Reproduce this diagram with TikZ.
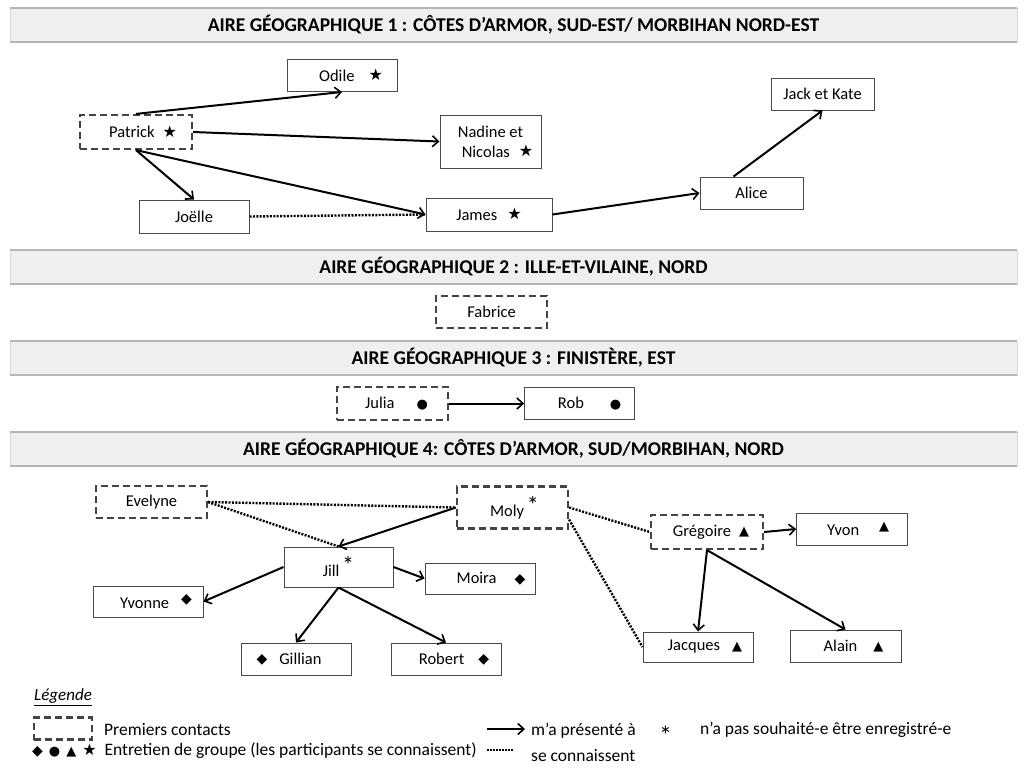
\documentclass[tikz,border=0pt]{standalone}
\usepackage{fontspec}
\setmainfont{Carlito}
\newfontfamily\symfont{DejaVu Sans}
\usetikzlibrary{arrows.meta, positioning}

\definecolor{boxgray}{HTML}{4A4A4A}
\definecolor{dashgray}{HTML}{444444}
\definecolor{barfill}{HTML}{EFEFEF}
\definecolor{barline}{HTML}{B5B5B5}

\newcommand{\etoile}{\raisebox{0.5pt}{\symfont\fontsize{16}{16}\selectfont ★}}
\newcommand{\losange}{\raisebox{0.5pt}{\symfont\fontsize{14}{14}\selectfont ◆}}
\newcommand{\rond}{\raisebox{0.5pt}{\symfont\fontsize{13}{13}\selectfont ●}}
\newcommand{\trgl}{\raisebox{0.5pt}{\symfont\fontsize{13}{13}\selectfont ▲}}
\newcommand{\refus}{\raisebox{3pt}{\fontsize{24}{24}\selectfont *}}

\tikzset{
  person/.style={rectangle, draw=boxgray, line width=1pt, fill=white, minimum width=110pt, minimum height=32pt, inner sep=2pt, font=\fontsize{16.5}{20}\selectfont},
  contact/.style={person, draw=dashgray, line width=2.2pt, dash pattern=on 7pt off 4pt},
  presente/.style={-{Straight Barb[length=6pt,width=11pt,line width=1.6pt]}, line width=2pt, black},
  connait/.style={line width=2.4pt, dash pattern=on 2pt off 1.4pt, black},
  bandeau/.style={rectangle, fill=barfill, draw=barline!50, line width=0.6pt, minimum width=1007pt, minimum height=34pt, font=\fontsize{19.5}{21}\selectfont\bfseries},
  legtext/.style={anchor=west, inner sep=0pt, font=\fontsize{17.5}{19}\selectfont}
}

\begin{document}
\begin{tikzpicture}[x=1pt, y=-1pt]
  \useasboundingbox (0,0) rectangle (1024,769);
  % bandeaux des aires
  \node[bandeau] (aire1) at (513.5,25) {AIRE GÉOGRAPHIQUE 1 : CÔTES D’ARMOR, SUD-EST/ MORBIHAN NORD-EST};
  \node[bandeau] (aire2) at (513.5,267) {AIRE GÉOGRAPHIQUE 2 : ILLE-ET-VILAINE, NORD};
  \node[bandeau] (aire3) at (513.5,358) {AIRE GÉOGRAPHIQUE 3 : FINISTÈRE, EST};
  \node[bandeau] (aire4) at (513.5,449) {AIRE GÉOGRAPHIQUE 4: CÔTES D’ARMOR, SUD/MORBIHAN, NORD};
  \foreach \a in {aire1,aire2,aire3,aire4}{
    \draw[barline, line width=2pt] (\a.north west) -- (\a.north east);
    \draw[barline, line width=2pt] (\a.south west) -- (\a.south east);
  }

  % aire 1
  \node[contact, minimum width=112pt, minimum height=34pt] (Patrick) at (136,132) {\hspace*{14pt}Patrick\hspace{8pt}\etoile};
  \node[person] (Odile) at (342,75.5) {\hspace*{18pt}Odile\hspace{14pt}\etoile};
  \node[person, minimum width=101pt, minimum height=53pt, align=center] (Nadine) at (490.5,141.5) {Nadine et\\\hspace*{14pt}Nicolas\hspace{9pt}\etoile};
  \node[person, minimum height=33pt] (Joelle) at (194,216.5) {Joëlle};
  \node[person, minimum width=126pt, minimum height=33pt] (James) at (489,214.5) {James\hspace{10pt}\etoile};
  \node[person, minimum width=103pt] (Alice) at (751.5,193) {Alice};
  \node[person, minimum width=103pt] (Jack) at (822.5,94) {Jack et Kate};
  \draw[presente] (Patrick.north) -- (Odile.south);%Patrick vers Odile
  \draw[presente] (Patrick.east) -- (Nadine.west);%Patrick vers Nadine et Nicolas
  \draw[presente] (Patrick.south) -- (Joelle.north);%Patrick vers Joëlle
  \draw[presente] (Patrick.south) -- (James.west);%Patrick vers James
  \draw[connait] (Joelle.east) -- (James.west);%Joëlle et James
  \draw[presente] (James.east) -- (Alice.west);%James vers Alice
  \draw[presente] ([xshift=-18pt]Alice.north) -- (Jack.south);%Alice vers Jack et Kate

  % aire 2
  \node[contact, minimum width=111pt] (Fabrice) at (491.5,312) {Fabrice};

  % aire 3
  \node[contact, minimum width=111pt, minimum height=33pt] (Julia) at (392.5,403.5) {\hspace*{8pt}Julia\hspace{22pt}\rond};
  \node[person, right=75pt of Julia] (Rob) {\hspace*{20pt}Rob\hspace{26pt}\rond};
  \draw[presente] (Julia.east) -- (Rob.west);%Julia vers Rob

  % aire 4
  \node[contact, minimum width=111pt] (Evelyne) at (151.5,502) {Evelyne};
  \node[contact, minimum width=111pt, minimum height=42pt] (Moly) at (512.5,507.5) {\hspace*{4pt}Moly\,\refus};
  \node[person, minimum width=109pt, minimum height=40pt] (Jill) at (338.5,567) {Jill\,\refus};
  \node[person, minimum height=31pt] (Moira) at (480,578.5) {\hspace*{22pt}Moira\hspace{18pt}\losange};
  \node[person, minimum height=31pt] (Yvonne) at (148,601.5) {\hspace*{16pt}Yvonne\hspace{12pt}\raisebox{4pt}{\losange}};
  \node[person] (Gillian) at (296,659) {\losange\hspace{12pt}Gillian\hspace*{14pt}};
  \node[person] (Robert) at (446,659) {\hspace*{16pt}Robert\hspace{14pt}\losange};
  \node[contact, minimum width=112pt, minimum height=34pt] (Gregoire) at (707,532) {\hspace*{8pt}Grégoire\hspace{8pt}\trgl};
  \node[person, minimum width=111pt, right=32pt of Gregoire, yshift=3pt] (Yvon) {\hspace*{12pt}Yvon\hspace{20pt}\raisebox{4pt}{\trgl}};
  \node[person, minimum height=30pt] (Jacques) at (698,647) {\hspace*{14pt}Jacques\hspace{12pt}\trgl};
  \node[person, minimum width=111pt] (Alain) at (845.5,646) {\hspace*{16pt}Alain\hspace{16pt}\trgl};
  \draw[connait] (Evelyne.east) -- (Moly.west);%Evelyne et Moly
  \draw[connait] (Evelyne.east) -- (Jill.north);%Evelyne et Jill
  \draw[presente] (Moly.west) -- (Jill.north);%Moly vers Jill
  \draw[presente] (Jill.west) -- (Yvonne.east);%Jill vers Yvonne
  \draw[presente] (Jill.east) -- (Moira.west);%Jill vers Moira
  \draw[presente] (Jill.south) -- (Gillian.north);%Jill vers Gillian
  \draw[presente] (Jill.south) -- (Robert.north);%Jill vers Robert
  \draw[connait] (Moly.east) -- (Gregoire.west);%Moly et Grégoire
  \draw[connait] (Moly.-12) -- (Jacques.west);%Moly et Jacques
  \draw[presente] (Gregoire.east) -- (Yvon.west);%Grégoire vers Yvon
  \draw[presente] (Gregoire.south) -- (Jacques.north);%Grégoire vers Jacques
  \draw[presente] (Gregoire.south) -- (Alain.north);%Grégoire vers Alain

  % legende
  \node[legtext, font=\fontsize{17}{19}\selectfont\itshape] (legende) at (34,697) {\underline{Légende}};
  \node[contact, minimum width=58pt, minimum height=22pt] (legbox) at (63,728.5) {};
  \node[legtext] (premiers) at (104,730) {Premiers contacts};
  \node[legtext] (groupe) at (32,751) {\losange\hspace{6pt}\rond\hspace{6pt}\trgl\hspace{6pt}\etoile\hspace{8pt}Entretien de groupe (les participants se connaissent)};
  \coordinate (fl1) at (487,729);
  \coordinate (fl2) at (525,729);
  \draw[presente] (fl1) -- (fl2);
  \node[legtext] (presentea) at (531,731) {m’a présenté à};
  \coordinate (pt1) at (487,750);
  \coordinate (pt2) at (513,750);
  \draw[connait, line width=1.6pt, dash pattern=on 1.5pt off 1.5pt] (pt1) -- (pt2);
  \node[legtext] (seconnaissent) at (531,756) {se connaissent};
  \node[legtext, font=\fontsize{26}{26}\selectfont] (asterisque) at (659,735) {*};
  \node[legtext] (enregistre) at (700,730) {n’a pas souhaité-e être enregistré-e};
\end{tikzpicture}
\end{document}
